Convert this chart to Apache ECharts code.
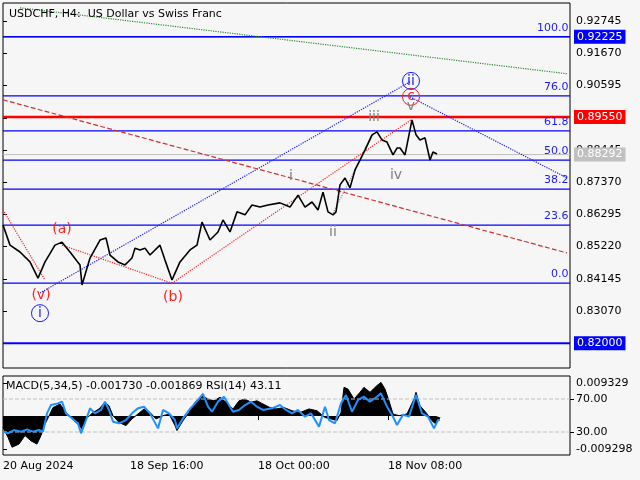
<!DOCTYPE html>
<html><head><meta charset="utf-8">
<script src="https://cdn.jsdelivr.net/npm/echarts@6/dist/echarts.min.js"></script>
<style>html,body{margin:0;padding:0;background:#f6f6f6}#c{width:640px;height:480px}</style>
</head><body><div id="c"></div>
<script>
const priceBars=[0,7,17,27,35,42,52,59,67,77,79,87,97,103,107,115,122,129,132,137,142,147,157,162,169,177,187,194,199,207,215,220,227,234,242,249,257,265,277,287,295,302,309,315,320,325,330,333,337,342,347,352,357,362,369,374,379,384,390,394,397,402,405,409,413,417,422,427,430,434];
const priceVals=[0.8594,0.8527,0.8504,0.8471,0.8417,0.8471,0.8527,0.8537,0.8504,0.8461,0.8394,0.8484,0.8544,0.8551,0.8494,0.8471,0.8461,0.8484,0.8517,0.8511,0.8517,0.8494,0.8527,0.8477,0.8411,0.8471,0.8511,0.8527,0.8604,0.8544,0.8571,0.8611,0.8571,0.8638,0.8628,0.8661,0.8654,0.8661,0.8668,0.8654,0.8694,0.8654,0.8671,0.8644,0.8704,0.8638,0.8628,0.8638,0.8728,0.8751,0.8718,0.8778,0.8811,0.8845,0.8895,0.8905,0.8878,0.8871,0.8828,0.8851,0.8851,0.8828,0.8878,0.8945,0.8895,0.8878,0.8885,0.8811,0.8838,0.8831];
const macdBars=[0,5,9,16,22,28,34,38,42,50,57,63,69,75,79,83,90,96,102,106,110,116,123,129,135,141,147,153,160,166,172,174,180,186,192,199,205,211,217,223,230,236,242,248,254,260,267,273,281,289,297,306,314,322,328,334,338,341,345,351,357,361,367,374,378,382,386,390,396,404,411,413,417,423,429,433,437];
const macdVals=[-0.0032,-0.0060,-0.0088,-0.0079,-0.0055,-0.0070,-0.0079,-0.0055,-0.0023,0.0024,0.0034,0.0010,-0.0008,-0.0023,-0.0037,-0.0008,0.0010,0.0020,0.0039,0.0029,0.0001,-0.0018,-0.0027,-0.0008,0.0006,0.0020,0.0010,-0.0008,0.0001,0.0006,-0.0027,-0.0041,-0.0013,0.0010,0.0039,0.0057,0.0048,0.0043,0.0053,0.0039,0.0020,0.0043,0.0048,0.0039,0.0043,0.0034,0.0024,0.0020,0.0024,0.0015,0.0010,0.0020,0.0015,-0.0004,-0.0008,-0.0013,0.0010,0.0081,0.0076,0.0048,0.0067,0.0081,0.0067,0.0086,0.0095,0.0076,0.0043,0.0006,0.0001,0.0006,0.0048,0.0067,0.0029,0.0010,-0.0013,-0.0023,-0.0004];
const rsiBars=[0,5,11,18,24,30,36,40,44,48,55,59,63,69,75,78,83,87,92,98,102,106,110,116,123,129,135,141,147,155,160,166,172,174,180,186,192,200,205,209,215,221,227,230,236,242,248,254,260,269,277,283,289,295,302,308,316,322,326,332,338,343,349,355,361,367,374,378,384,390,394,400,406,413,419,425,431,435,437];
const rsiVals=[30.4,28.4,32.4,30.4,33.2,30.4,32.4,30.4,52.6,62.7,64.7,66.8,52.6,46.6,40.5,28.4,44.5,58.7,52.6,56.7,66.8,56.7,42.5,40.5,44.5,52.6,58.7,60.7,52.6,34.4,56.7,52.6,44.5,34.4,46.6,56.7,64.7,76.1,60.7,54.6,66.8,72.8,60.7,54.6,56.7,62.7,66.8,60.7,56.7,58.7,62.7,56.7,52.6,56.7,48.6,52.6,36.5,60.7,44.5,40.5,64.7,74.8,54.6,68.8,72.8,66.8,72.8,76.9,60.7,48.6,38.5,51.0,48.6,74.8,52.6,48.6,34.4,44.5,44.5];
const priceTicks=[0.92745,0.91670,0.90595,0.89520,0.88445,0.87370,0.86295,0.85220,0.84145,0.83070];
const fibLevels=[0.92225,0.9025,0.8908,0.8811,0.8714,0.8594,0.8400];
const fibNames=['100.0','76.0','61.8','50.0','38.2','23.6','0.0'];
const boxLevels=[0.92225,0.8955,0.88292,0.82];
const timeBars=[0,127,255,385];
const timeLabels=['20 Aug 2024','18 Sep 16:00','18 Oct 00:00','18 Nov 08:00'];
const waveLabels=[
 {b:59,p:0.8581,t:'(a)',c:'red'},{b:38,p:0.8360,t:'(v)',c:'red'},{b:170,p:0.8354,t:'(b)',c:'red'},
 {b:288,p:0.8755,t:'i',c:'gray'},{b:330,p:0.8568,t:'ii',c:'gray'},{b:371,p:0.8955,t:'iii',c:'gray'},
 {b:393,p:0.8761,t:'iv',c:'gray'},{b:408,p:0.8990,t:'v',c:'gray'},
 {b:37,p:0.8300,t:'i',c:'blue',o:1},{b:408,p:0.9022,t:'c',c:'red',o:1},{b:408,p:0.9075,t:'ii',c:'blue',o:1}];
const trend=[
 {a:[17,0.9319],z:[564,0.9099],c:'#2e8b2e',t:'dotted'},
 {a:[0,0.9012],z:[564,0.8501],c:'#d03030',t:'dashed'},
 {a:[37,0.8367],z:[407,0.9072],c:'#1a1aff',t:'dotted'},
 {a:[407,0.9022],z:[564,0.8751],c:'#1a1aff',t:'dotted'},
 {a:[0,0.8644],z:[42,0.8411],c:'#ff2020',t:'dotted'},
 {a:[59,0.8527],z:[169,0.8400],c:'#ff2020',t:'dotted'},
 {a:[169,0.8400],z:[408,0.8945],c:'#ff2020',t:'dotted'},
 {a:[330,0.8634],z:[370,0.8895],c:'#909090',t:'dotted'}];
const F='DejaVu Sans';
const colMap={red:'#ff2020',gray:'#808080',blue:'#1a1aff'};
const boxStyle=[['#0000ff',1.5],['#ff0000',2.5],['#c0c0c0',1],['#0000ff',2]];
const ch=echarts.init(document.getElementById('c'));
const zip=(a,b)=>a.slice(0,Math.min(a.length,b.length)).map((x,i)=>[x,b[i]]);
const hline=(v,c,w,z)=>({type:'line',xAxisIndex:0,yAxisIndex:0,data:[[0,v],[567,v]],symbol:'none',lineStyle:{color:c,width:w},z:z,silent:true});
const series=[
 {type:'line',xAxisIndex:0,yAxisIndex:0,data:zip(priceBars,priceVals),symbol:'none',lineStyle:{color:'#000',width:1.6},z:5},
 ...fibLevels.map(v=>hline(v,'#0000ff',1.3,2)),
 ...boxLevels.map((v,i)=>Object.assign(hline(v,boxStyle[i][0],boxStyle[i][1],i===2?1:3),{
   endLabel:{show:true,formatter:v.toFixed(5),color:'#fff',backgroundColor:boxStyle[i][0],padding:[2,3,1,3],fontFamily:F,fontSize:11,distance:4}})),
 {type:'scatter',xAxisIndex:0,yAxisIndex:0,z:8,symbolSize:1,itemStyle:{color:'rgba(0,0,0,0)',opacity:1},
  data:fibLevels.map((v,i)=>({value:[566,v],label:{show:true,position:[0,-14],align:'right',formatter:fibNames[i],color:'#1a1aff',fontFamily:F,fontSize:11}}))},
 ...trend.map(t=>({type:'line',xAxisIndex:0,yAxisIndex:0,data:[t.a,t.z],symbol:'none',lineStyle:{color:t.c,width:1.2,type:t.t},z:3})),
 {type:'scatter',xAxisIndex:0,yAxisIndex:0,z:10,data:waveLabels.map(w=>({value:[w.b,w.p],symbol:'circle',symbolSize:w.o?17:1,
   itemStyle:{color:'rgba(0,0,0,0)',opacity:1,borderColor:w.o?colMap[w.c]:'rgba(0,0,0,0)',borderWidth:1},
   label:{show:true,position:'inside',formatter:w.t,color:colMap[w.c],fontFamily:F,fontSize:14}}))},
 {type:'line',xAxisIndex:1,yAxisIndex:1,data:zip(macdBars,macdVals),symbol:'none',lineStyle:{color:'#000',width:1},areaStyle:{color:'#000',opacity:1}},
 {type:'line',xAxisIndex:1,yAxisIndex:2,data:[[0,70],[567,70]],symbol:'none',lineStyle:{color:'#c0c0c0',type:'dashed',width:1},silent:true},
 {type:'line',xAxisIndex:1,yAxisIndex:2,data:[[0,30],[567,30]],symbol:'none',lineStyle:{color:'#c0c0c0',type:'dashed',width:1},silent:true},
 {type:'line',xAxisIndex:1,yAxisIndex:2,data:zip(rsiBars,rsiVals),symbol:'none',lineStyle:{color:'#1e90ff',width:2},z:6}
];
ch.setOption({
 animation:false,backgroundColor:'#f6f6f6',
 title:{text:'USDCHF, H4:  US Dollar vs Swiss Franc',left:4,top:4,textStyle:{fontFamily:F,fontSize:11,fontWeight:'normal',color:'#000'}},
 graphic:[{type:'text',left:6,top:381,style:{text:'MACD(5,34,5) -0.001730 -0.001869 RSI(14) 43.11',font:'11px DejaVu Sans',fill:'#000'}}],
 grid:[{left:3,right:70,top:3,height:365,show:true,borderColor:'#000',borderWidth:1},
       {left:3,right:70,top:376,height:79,show:true,borderColor:'#000',borderWidth:1}],
 xAxis:[{type:'value',gridIndex:0,min:0,max:567,show:false},
  {type:'value',gridIndex:1,min:0,max:567,axisLine:{show:false},splitLine:{show:false},
   axisTick:{show:true,customValues:timeBars,inside:false,length:4,lineStyle:{color:'#000'}},
   axisLabel:{customValues:timeBars,formatter:v=>timeLabels[timeBars.indexOf(v)]||'',align:'left',fontFamily:F,fontSize:11,color:'#000',margin:6}}],
 yAxis:[{type:'value',gridIndex:0,position:'right',min:0.8117,max:0.9335,splitLine:{show:false},axisLine:{show:false},
   axisTick:{show:true,customValues:priceTicks,length:4,lineStyle:{color:'#000'}},
   axisLabel:{customValues:priceTicks,formatter:v=>v.toFixed(5),fontFamily:F,fontSize:11,color:'#000',margin:6}},
  {type:'value',gridIndex:1,position:'right',min:-0.01099,max:0.011303,splitLine:{show:false},axisLine:{show:false},
   axisTick:{show:true,customValues:[0.009329,-0.009298],length:4,lineStyle:{color:'#000'}},
   axisLabel:{customValues:[0.009329,-0.009298],formatter:v=>v.toFixed(6),fontFamily:F,fontSize:11,color:'#000',margin:6}},
  {type:'value',gridIndex:1,position:'right',min:2.1,max:97.9,splitLine:{show:false},axisLine:{show:false},
   axisTick:{show:true,customValues:[70,30],length:4,lineStyle:{color:'#000'}},
   axisLabel:{customValues:[70,30],formatter:v=>v.toFixed(2),fontFamily:F,fontSize:11,color:'#000',margin:6}}],
 series
});
</script></body></html>
